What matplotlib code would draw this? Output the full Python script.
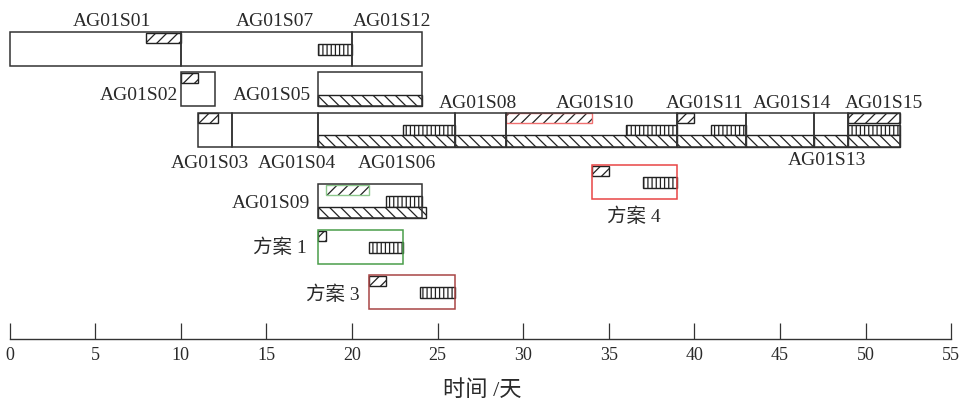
import matplotlib
matplotlib.use("Agg")
from matplotlib import pyplot as plt

# task blocks (days)
tasks = ['AG01S01', 'AG01S07', 'AG01S12', 'AG01S02', 'AG01S05', 'AG01S03', 'AG01S04',
         'AG01S06', 'AG01S08', 'AG01S10', 'AG01S11', 'AG01S14', 'AG01S13', 'AG01S15', 'AG01S09']
task_start = [0, 10, 20, 10, 18, 11, 13, 18, 26, 29, 39, 43, 47, 49, 18]
task_end = [10, 20, 24.1, 12, 24.1, 13, 18, 26, 29, 39, 43, 47, 49, 52, 24.1]

# schemes
schemes = ['方案 1', '方案 3', '方案 4']
scheme_start = [18, 21, 34]
scheme_end = [23, 26, 39]

# "///" segments
slash_task = ['AG01S01', 'AG01S02', 'AG01S03', 'AG01S10', 'AG01S11', 'AG01S15', 'AG01S09',
              '方案 1', '方案 3', '方案 4']
slash_start = [8, 10, 11, 29, 39, 49, 18.5, 18, 21, 34]
slash_end = [10, 11, 12.2, 34, 40, 52, 21, 18.5, 22, 35]

# "|||" segments
vbar_task = ['AG01S07', 'AG01S06', 'AG01S10', 'AG01S11', 'AG01S15', 'AG01S09', '方案 1', '方案 3', '方案 4']
vbar_start = [18, 23, 36, 41, 49, 22, 21, 24, 37]
vbar_end = [20, 26, 39, 43, 52, 24.1, 23, 26, 39]

# "\\\" segments
back_task = ['AG01S05', 'AG01S06', 'AG01S08', 'AG01S10', 'AG01S11', 'AG01S14', 'AG01S13', 'AG01S15', 'AG01S09']
back_start = [18, 18, 26, 29, 39, 43, 47, 49, 18]
back_end = [24.1, 26, 29, 39, 43, 47, 49, 52, 24.3]

# layout: top of each block (pixel-like y units, axis inverted)
row_top = {'AG01S01': 32, 'AG01S07': 32, 'AG01S12': 32,
           'AG01S02': 72, 'AG01S05': 72,
           'AG01S03': 112.5, 'AG01S04': 112.5, 'AG01S06': 112.5, 'AG01S08': 112.5,
           'AG01S10': 112.5, 'AG01S11': 112.5, 'AG01S14': 112.5, 'AG01S13': 112.5, 'AG01S15': 112.5,
           'AG01S09': 184, '方案 1': 230, '方案 3': 275, '方案 4': 165}
H = 34
scheme_color = {'方案 1': '#4a9e4a', '方案 3': '#a84545', '方案 4': '#e84545'}
slash_edge = {'AG01S10': '#f07070', 'AG01S09': '#8cc88c'}
dark = '#333333'

# label placement: (text, x in days, baseline y, ha)
labels = [('AG01S01', 5.99, 26, 'center'), ('AG01S07', 15.51, 26, 'center'), ('AG01S12', 22.34, 26, 'center'),
          ('AG01S02', 9.84, 100, 'right'), ('AG01S05', 17.61, 100, 'right'),
          ('AG01S03', 11.71, 168, 'center'), ('AG01S04', 16.79, 168, 'center'), ('AG01S06', 22.63, 168, 'center'),
          ('AG01S08', 27.37, 108, 'center'), ('AG01S10', 34.2, 108, 'center'), ('AG01S11', 40.63, 108, 'center'),
          ('AG01S14', 45.71, 108, 'center'), ('AG01S15', 51.08, 108, 'center'), ('AG01S13', 47.75, 165, 'center'),
          ('AG01S09', 17.55, 208, 'right'),
          ('方案 1', 17.38, 253, 'right'), ('方案 3', 20.47, 300, 'right'), ('方案 4', 36.48, 222, 'center')]

plt.rcParams['hatch.linewidth'] = 0.9
fig = plt.figure(figsize=(9.64, 4.0), dpi=100)
ax = fig.add_axes([0, 0, 1, 1])
ax.set_xlim(-9.5 / 17.12, (964 - 9.5) / 17.12)
ax.set_ylim(400, 0)

# hatched segments
for names, s, e, hatch, y0, y1 in [(slash_task, slash_start, slash_end, '///', 0.5, 10.5),
                                   (vbar_task, vbar_start, vbar_end, '||||', 12, 22.5),
                                   (back_task, back_start, back_end, '\\\\\\', 22.5, 34)]:
    for n, a, b in zip(names, s, e):
        top = row_top[n]
        ax.barh(top + (y0 + y1) / 2, b - a, left=a, height=y1 - y0, color='white',
                edgecolor='#222222', hatch=hatch, linewidth=0)
        ec = slash_edge.get(n, '#222222') if hatch == '///' else '#222222'
        ax.barh(top + (y0 + y1) / 2, b - a, left=a, height=y1 - y0, fill=False,
                edgecolor=ec, linewidth=1.0)

# task outlines
for n, a, b in zip(tasks, task_start, task_end):
    ax.barh(row_top[n] + H / 2, b - a, left=a, height=H, fill=False, edgecolor=dark, linewidth=1.1)

for n, a, b in zip(schemes, scheme_start, scheme_end):
    ax.barh(row_top[n] + H / 2, b - a, left=a, height=H, fill=False, edgecolor=scheme_color[n], linewidth=1.1)

for txt, x, y, ha in labels:
    ax.text(x, y, txt, ha=ha, va='baseline', fontsize=14, color='#2a2a2a',
            family=['Liberation Serif', 'Noto Sans CJK SC'])

# time axis
for side in ['left', 'right', 'top']:
    ax.spines[side].set_visible(False)
ax.spines['bottom'].set_position(('data', 339))
ax.spines['bottom'].set_bounds(0, 55)
ax.spines['bottom'].set_color(dark)
ax.spines['bottom'].set_linewidth(1.0)
ax.set_xticks(range(0, 56, 5))
ax.tick_params(axis='x', direction='in', length=11.5, width=0.9, color=dark, pad=5.5,
               labelsize=13, labelcolor='#2a2a2a')
for lab in ax.get_xticklabels():
    lab.set_family('Liberation Serif')
ax.set_yticks([])
ax.set_xlabel('时间 /天', fontsize=16, color='#2a2a2a', labelpad=12,
              family=['Liberation Serif', 'Noto Sans CJK SC'])

fig.savefig('out.png', dpi=100)
